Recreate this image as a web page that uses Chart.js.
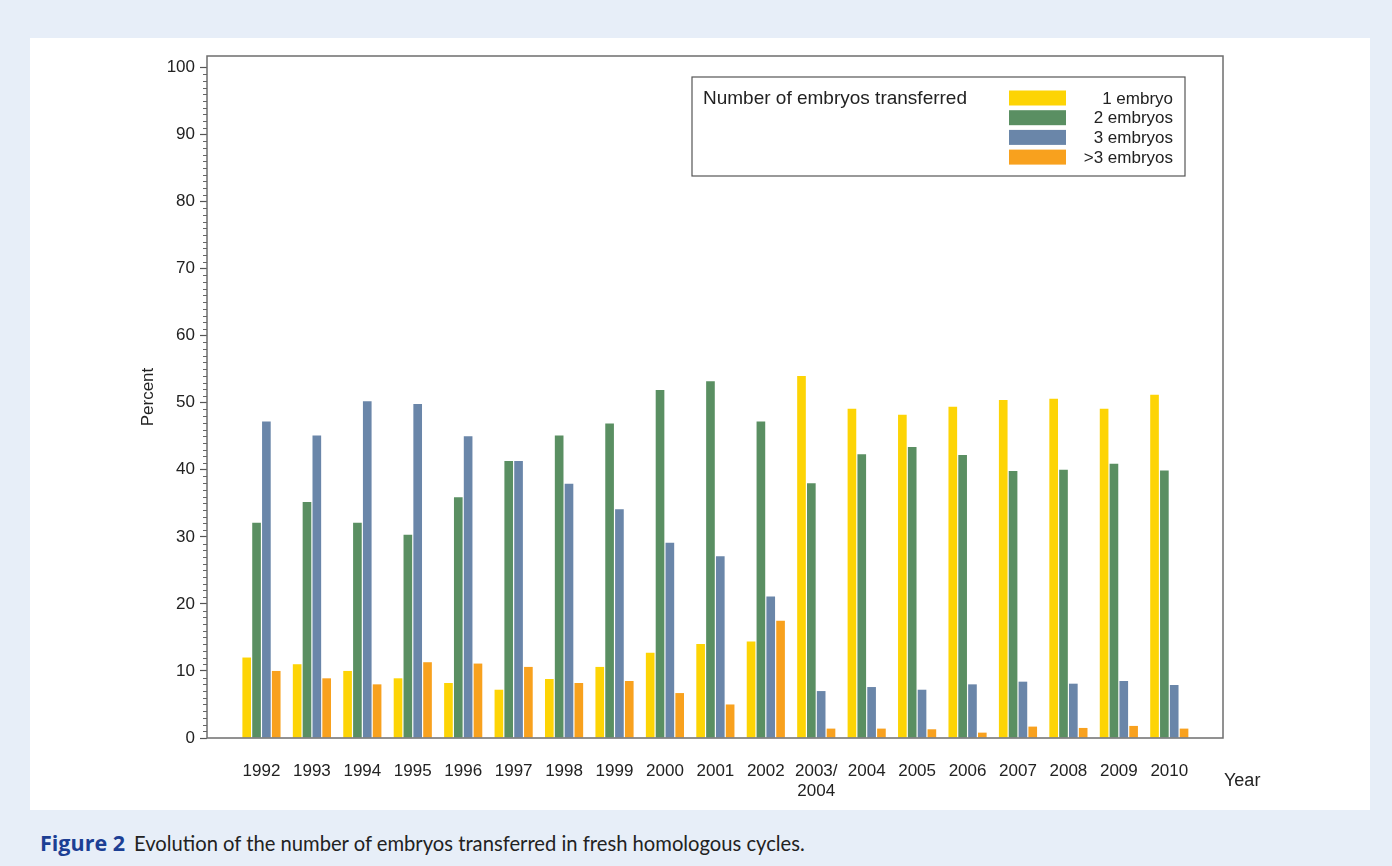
<!DOCTYPE html>
<html>
<head>
<meta charset="utf-8">
<script src="https://cdn.jsdelivr.net/npm/chart.js@4.4.1/dist/chart.umd.min.js"></script>
<style>
  html, body { margin: 0; padding: 0; }
  body { width: 1392px; height: 866px; background: #e7eef8; position: relative; overflow: hidden; }
  #panel { position: absolute; left: 30px; top: 38px; width: 1340px; height: 772px; background: #fff; }
  #caption { position: absolute; left: 40px; top: 828px; font-family: Lato, "Open Sans", sans-serif; font-size: 20.2px; color: #222; white-space: nowrap; }
  #caption b { font-family: "Open Sans", Lato, sans-serif; color: #1c3f94; font-size: 21.5px; margin-right: 9px; }
</style>
</head>
<body>
<div id="panel"><canvas id="chart" width="1340" height="772"></canvas></div>
<div id="caption"><b>Figure 2</b>Evolution of the number of embryos transferred in fresh homologous cycles.</div>

<script>
// ======= Data =======
const years = ["1992", "1993", "1994", "1995", "1996", "1997", "1998", "1999", "2000", "2001",
  "2002", ["2003/", "2004"], "2004", "2005", "2006", "2007", "2008", "2009", "2010"];

const oneEmbryo    = [12.0, 11.0, 10.0, 8.9, 8.2, 7.2, 8.8, 10.6, 12.7, 14.0, 14.4, 54.0, 49.1, 48.2, 49.4, 50.4, 50.6, 49.1, 51.2];
const twoEmbryos   = [32.1, 35.2, 32.1, 30.3, 35.9, 41.3, 45.1, 46.9, 51.9, 53.2, 47.2, 38.0, 42.3, 43.4, 42.2, 39.8, 40.0, 40.9, 39.9];
const threeEmbryos = [47.2, 45.1, 50.2, 49.8, 45.0, 41.3, 37.9, 34.1, 29.1, 27.1, 21.1, 7.0, 7.6, 7.2, 8.0, 8.4, 8.1, 8.5, 7.9];
const moreEmbryos  = [10.0, 8.9, 8.0, 11.3, 11.1, 10.6, 8.2, 8.5, 6.7, 5.0, 17.5, 1.4, 1.4, 1.3, 0.8, 1.7, 1.5, 1.8, 1.4];

const seriesNames  = ["1 embryo", "2 embryos", "3 embryos", ">3 embryos"];
const seriesColors = ["#fdd405", "#5a8f62", "#6a86a9", "#f8a11e"];
const yTicks = [0, 10, 20, 30, 40, 50, 60, 70, 80, 90, 100];

const FONT = "'Liberation Sans', Arial, sans-serif";

// ======= Plugins =======
// box around the plot, minor ticks, "Year" label and the legend box
const framePlugin = {
  id: "frame",
  afterDraw(chart) {
    const { ctx, chartArea: a, scales } = chart;
    const y = scales.y;
    ctx.save();
    ctx.strokeStyle = "#6e6e6e";
    ctx.lineWidth = 1.5;
    ctx.strokeRect(a.left, a.top, a.right - a.left, a.bottom - a.top);

    // minor ticks every 1 %
    ctx.lineWidth = 1;
    ctx.strokeStyle = "#666";
    for (let v = 0; v <= 100; v++) {
      if (v % 10 === 0) continue;
      const py = Math.round(y.getPixelForValue(v)) + 0.5;
      ctx.beginPath();
      ctx.moveTo(a.left - 4, py);
      ctx.lineTo(a.left, py);
      ctx.stroke();
    }

    // axis title on the right
    ctx.fillStyle = "#222";
    ctx.font = "18px " + FONT;
    ctx.textAlign = "left";
    ctx.textBaseline = "middle";
    ctx.fillText("Year", a.right + 1, a.bottom + 43);

    // legend
    const bw = 493, bh = 99;
    const bx = a.right - 38 - bw, by = a.top + 21;
    ctx.fillStyle = "#fff";
    ctx.fillRect(bx, by, bw, bh);
    ctx.strokeStyle = "#555";
    ctx.lineWidth = 1.2;
    ctx.strokeRect(bx, by, bw, bh);
    ctx.fillStyle = "#222";
    ctx.font = "19px " + FONT;
    ctx.textAlign = "left";
    ctx.fillText("Number of embryos transferred", bx + 11, by + 22);
    ctx.font = "17px " + FONT;
    ctx.textAlign = "right";
    chart.data.datasets.forEach((ds, i) => {
      const cy = by + 21 + i * 19.7;
      ctx.fillStyle = ds.backgroundColor;
      ctx.fillRect(bx + 317, cy - 7.5, 57, 15);
      ctx.fillStyle = "#222";
      ctx.fillText(ds.label, bx + 481, cy + 1);
    });
    ctx.restore();
  }
};

// ======= Chart =======
const datasets = [oneEmbryo, twoEmbryos, threeEmbryos, moreEmbryos].map((vals, s) => ({
  label: seriesNames[s],
  data: vals.map((v, i) => ({ x: i, y: v })),
  backgroundColor: seriesColors[s],
  borderWidth: 0,
  categoryPercentage: 0.78,
  barPercentage: 0.88
}));

new Chart(document.getElementById("chart"), {
  type: "bar",
  data: { datasets },
  options: {
    responsive: false,
    animation: false,
    devicePixelRatio: 1,
    layout: { padding: { left: 108, right: 147, top: 18, bottom: 10 } },
    plugins: { legend: { display: false }, tooltip: { enabled: false } },
    scales: {
      x: {
        type: "linear",
        offset: false,
        min: -1.08,
        max: 19.065,
        afterBuildTicks: (scale) => { scale.ticks = years.map((_, i) => ({ value: i })); },
        afterFit: (scale) => { scale.height = 62; scale.paddingLeft = 0; scale.paddingRight = 0; },
        grid: { display: false, drawTicks: false },
        border: { display: false },
        ticks: {
          autoSkip: false,
          maxRotation: 0,
          padding: 23,
          color: "#222",
          font: { family: FONT, size: 17 },
          callback: (v) => years[v]
        }
      },
      y: {
        min: 0,
        max: 101.7,
        afterBuildTicks: (scale) => { scale.ticks = yTicks.map((v) => ({ value: v })); },
        afterFit: (scale) => { scale.width = 69; scale.paddingTop = 0; scale.paddingBottom = 0; },
        grid: { drawOnChartArea: false, drawTicks: true, tickLength: 7, tickColor: "#555", tickWidth: 1.2 },
        border: { display: false },
        title: { display: true, text: "Percent", color: "#222", font: { family: FONT, size: 17 }, padding: 0 },
        ticks: {
          padding: 5,
          color: "#222",
          font: { family: FONT, size: 17 }
        }
      }
    }
  },
  plugins: [framePlugin]
});
</script>
</body>
</html>
